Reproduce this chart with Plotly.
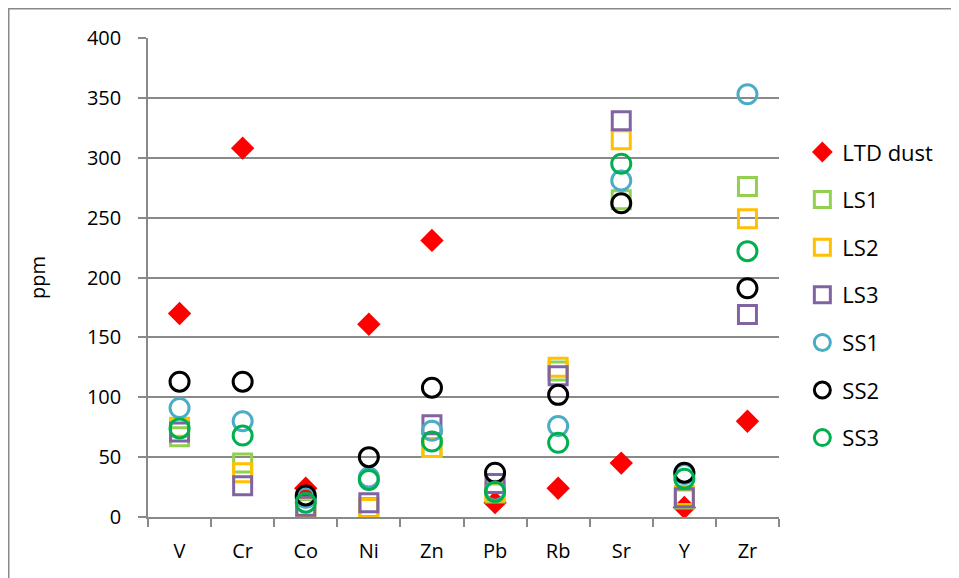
import plotly.graph_objects as go

categories = ["V", "Cr", "Co", "Ni", "Zn", "Pb", "Rb", "Sr", "Y", "Zr"]
ltd_dust = [170, 308, 24, 161, 231, 12, 24, 45, 8, 80]
ls1 = [67, 45, 7, 8, 58, 20, 122, 265, 15, 276]
ls2 = [75, 37, 8, 7, 58, 21, 125, 315, 18, 249]
ls3 = [71, 26, 9, 12, 77, 28, 118, 331, 16, 169]
ss1 = [91, 80, 16, 33, 72, 22, 76, 281, 36, 353]
ss2 = [113, 113, 18, 50, 108, 37, 102, 262, 37, 191]
ss3 = [74, 68, 12, 31, 63, 21, 62, 295, 32, 222]
y_ticks = [0, 50, 100, 150, 200, 250, 300, 350, 400]

FONT = "Open Sans"
GRID = "#898989"

series = [
    ("LTD dust", ltd_dust, "diamond", "#FF0000", 18, 0),
    ("LS1", ls1, "square-open", "#92D050", 18, 3),
    ("LS2", ls2, "square-open", "#FFC000", 18, 3),
    ("LS3", ls3, "square-open", "#8064A2", 18, 3),
    ("SS1", ss1, "circle-open", "#4BACC6", 19, 3),
    ("SS2", ss2, "circle-open", "#000000", 19, 3),
    ("SS3", ss3, "circle-open", "#00B050", 19, 3),
]

fig = go.Figure()
for name, vals, sym, col, size, lw in series:
    fig.add_trace(go.Scatter(
        x=categories, y=vals, mode="markers", name=name,
        legendgroup=name,
        marker=dict(symbol=sym, color=col, size=size,
                    line=dict(color=col, width=lw)),
    ))

# page body has an 8px margin, so the figure is 951x570 to fill the window
W, H = 951, 570
L, T, PW, PH = 140, 30, 631, 479

fig.update_layout(
    width=W, height=H,
    margin=dict(l=L, r=W - L - PW, t=T, b=H - T - PH),
    plot_bgcolor="white", paper_bgcolor="white",
    font=dict(family=FONT, size=20, color="#000000"),
    showlegend=True,
    legend=dict(x=1.037, xanchor="left", y=0.463, yanchor="middle",
                font=dict(family=FONT, size=22), tracegroupgap=16,
                bgcolor="rgba(0,0,0,0)"),
    xaxis=dict(type="category", showgrid=False, showline=True,
               linecolor=GRID, linewidth=1.5, ticks="outside",
               tickson="boundaries", ticklen=8, tickcolor=GRID,
               tickwidth=1.5, tickfont=dict(family=FONT, size=20),
               ticklabelstandoff=15, range=[-0.5, 9.5]),
    yaxis=dict(range=[0, 400], tickvals=y_ticks, showgrid=True,
               gridcolor=GRID, gridwidth=1.5, showline=True,
               linecolor=GRID, linewidth=1.5, ticks="outside",
               ticklen=8, tickcolor=GRID, tickwidth=1.5,
               zeroline=False, ticklabelstandoff=13,
               tickfont=dict(family=FONT, size=20),
               title=dict(text="ppm", font=dict(family=FONT, size=20),
                          standoff=36)),
    shapes=[dict(type="rect", xref="paper", yref="paper",
                 x0=(0.75 - L) / PW, x1=(W + 40 - L) / PW,
                 y0=-(H - T - PH + 40) / PH, y1=(T + PH - 0.75) / PH,
                 line=dict(color=GRID, width=1.5), layer="below")],
)

fig.write_html("out.html")
